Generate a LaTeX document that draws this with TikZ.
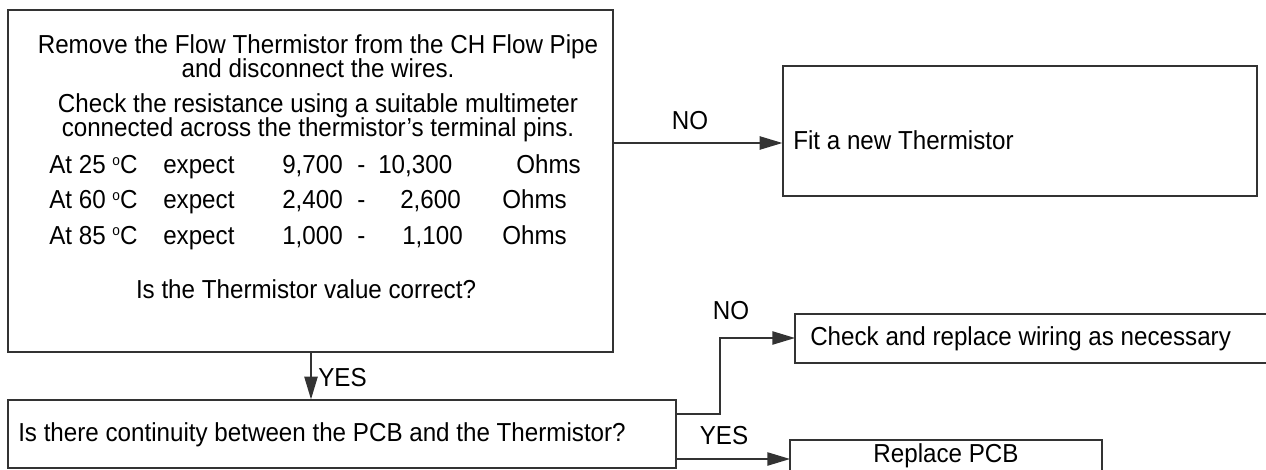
\documentclass[tikz,border=0pt]{standalone}
\usepackage{fontspec}
\setmainfont[FakeStretch=0.93]{Liberation Sans}
\usetikzlibrary{arrows.meta}
\tikzset{
  box/.style={draw=black!80, line width=1pt},
  conn/.style={draw=black!80, line width=1pt},
  arr/.style={conn, -{Triangle[length=17pt,width=10pt]}},
  txt/.style={inner sep=0pt, font=\fontsize{19.5}{23}\selectfont, anchor=base west},
  ctxt/.style={inner sep=0pt, font=\fontsize{19.5}{23}\selectfont, anchor=base},
  lbl/.style={inner sep=0pt, font=\fontsize{19.5}{23}\selectfont}
}
\newcommand{\degc}{\raisebox{0.6ex}{\fontsize{11}{12}\selectfont o}C}
\begin{document}
\begin{tikzpicture}[x=0.75pt,y=-0.75pt]
\useasboundingbox (0,0) rectangle (1266,470);
% boxes
\node[box, minimum width=605*0.75pt, minimum height=342*0.75pt, inner sep=0pt] (b1) at (310.5,181) {};
\node[box, minimum width=474*0.75pt, minimum height=130*0.75pt, inner sep=0pt] (b2) at (1020,131) {};
\node[box, minimum width=668*0.75pt, minimum height=68*0.75pt, inner sep=0pt] (b3) at (342,434) {};
\draw[box] (1272,314) -- (795,314) -- (795,363) -- (1272,363);
\draw[box] (790,478) -- (790,440) -- (1102,440) -- (1102,478);
% texts box1
\node[ctxt] (t1) at (318,54) {Remove the Flow Thermistor from the CH Flow Pipe};
\node[ctxt] (t2) at (318,78) {and disconnect the wires.};
\node[ctxt] (t3) at (318,113) {Check the resistance using a suitable multimeter};
\node[ctxt] (t4) at (318,137) {connected across the thermistor’s terminal pins.};
\foreach \y/\t/\a/\b/\bx/\ox in {
  174/25/{9,700}/{10,300}/378/516,
  209/60/{2,400}/{2,600}/400/502,
  244/85/{1,000}/{1,100}/402/502}{
  \node[txt] at (49,\y) {At \t\ \degc};
  \node[txt] at (163,\y) {expect};
  \node[txt] at (282,\y) {\a};
  \node[txt] at (357,\y) {-};
  \node[txt] at (\bx,\y) {\b};
  \node[txt] at (\ox,\y) {Ohms};
}
\node[ctxt] (q1) at (306,298) {Is the Thermistor value correct?};
% other texts
\node[txt] (fit) at (793,150) {Fit a new Thermistor};
\node[txt] (q2) at (18,441) {Is there continuity between the PCB and the Thermistor?};
\node[txt] (chk) at (810,345) {Check and replace wiring as necessary};
\node[ctxt] (rep) at (946,462) {Replace PCB};
% connectors
\coordinate (n1s) at (b1.east |- 0,143);
\coordinate (n1e) at (b2.west |- 0,143);
\draw[arr] (n1s) -- (n1e);
\node[lbl] (noA) at (690,121) {NO};
\coordinate (y1s) at (b1.south -| 311,0);
\coordinate (y1e) at (b3.north -| 311,0);
\draw[arr] (y1s) -- (y1e);
\node[lbl, anchor=west] (yesA) at (318,378) {YES};
\coordinate (n2s) at (b3.east |- 0,414);
\coordinate (n2m1) at (720,414);
\coordinate (n2m2) at (720,338);
\coordinate (n2e) at (795,338);
\draw[arr] (n2s) -- (n2m1) -- (n2m2) -- (n2e);
\node[lbl] (noB) at (731,311) {NO};
\coordinate (y2s) at (b3.east |- 0,459);
\coordinate (y2e) at (790,459);
\draw[arr] (y2s) -- (y2e);
\node[lbl] (yesB) at (724,436) {YES};
\end{tikzpicture}
\end{document}
